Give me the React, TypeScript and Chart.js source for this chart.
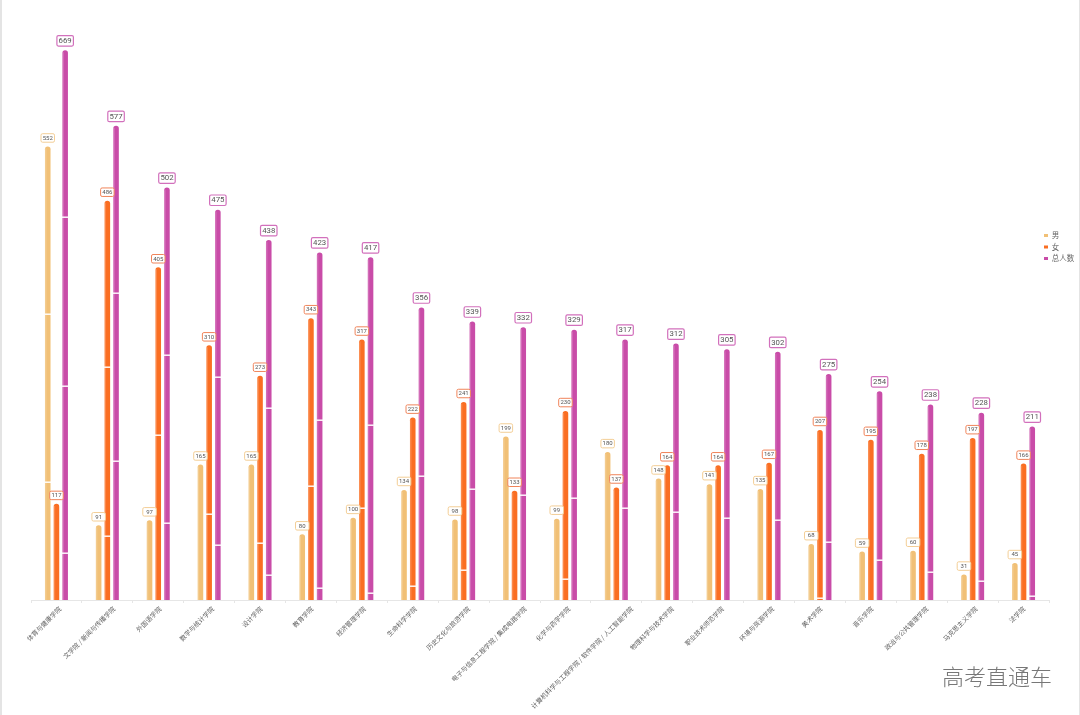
import React, { useEffect, useRef } from "react";
import { Chart, registerables } from "chart.js";

Chart.register(...registerables);

const categories = [
  "体育与健康学院", "文学院 / 新闻与传播学院", "外国语学院", "数学与统计学院", "设计学院",
  "教育学院", "经济管理学院", "生命科学学院", "历史文化与旅游学院", "电子与信息工程学院 / 集成电路学院",
  "化学与药学学院", "计算机科学与工程学院 / 软件学院 / 人工智能学院", "物理科学与技术学院", "职业技术师范学院", "环境与资源学院",
  "美术学院", "音乐学院", "政治与公共管理学院", "马克思主义学院", "法学院",
];
const male = [552, 91, 97, 165, 165, 80, 100, 134, 98, 199, 99, 180, 148, 141, 135, 68, 59, 60, 31, 45];
const female = [117, 486, 405, 310, 273, 343, 317, 222, 241, 133, 230, 137, 164, 164, 167, 207, 195, 178, 197, 166];
const total = [669, 577, 502, 475, 438, 423, 417, 356, 339, 332, 329, 317, 312, 305, 302, 275, 254, 238, 228, 211];

// White break marks seen on the bars, in axis units, per category
const maleMarks = [[348, 144]];
const femaleMarks = [[], [283, 78], [201], [105], [69], [139], [112], [17], [36], [], [25], [], [], [], [], [3]];
const totalMarks = [
  [466, 261, 57], [373, 169], [298, 94], [271, 67], [234, 30], [219, 14], [213, 8], [151], [135], [128],
  [124], [112], [107], [100], [97], [71], [49], [34], [23], [5],
];

const maleColor = "#F1C076";
const femaleColor = "#FA6E22";
const totalColor = "#C94CA8";
const labelBorders = ["#F3CE96", "#F0845A", "#D270BC"];
const markLists = [maleMarks, femaleMarks, totalMarks];

const decorations = {
  id: "decorations",
  beforeLayout(chart: any) {
    const l = chart.legend;
    if (l && !l.__patched) {
      const fit = l.fit.bind(l);
      l.fit = () => {
        fit();
        l.width = 31;
      };
      l.__patched = true;
    }
  },
  afterLayout(chart: any) {
    const l = chart.legend;
    if (l) {
      l.left -= 9;
      l.top -= 115.5;
      l.bottom -= 115.5;
    }
  },
  beforeDraw(chart: any) {
    const ctx: CanvasRenderingContext2D = chart.ctx;
    const xs = chart.scales.x;
    ctx.save();
    ctx.font = "6.5px 'Noto Sans CJK SC', sans-serif";
    xs.getLabelItems().forEach((item: any) => {
      if (item.__moved) return;
      const text = String(item.label);
      item.options.translation[0] += 0.125 * ctx.measureText(text).width - 2;
      item.__moved = true;
    });
    ctx.restore();
  },
  afterDatasetsDraw(chart: any) {
    const ctx: CanvasRenderingContext2D = chart.ctx;
    const y = chart.scales.y;
    const base = y.getPixelForValue(0);
    ctx.save();
    chart.data.datasets.forEach((_: any, i: number) => {
      const meta = chart.getDatasetMeta(i);
      meta.data.forEach((el: any) => {
        ctx.fillStyle = "rgba(255,255,255,0.18)";
        ctx.fillRect(el.x - el.width / 2, el.y + 2, 1.5, base - el.y - 2);
      });
      (markLists[i] as number[][]).forEach((list, j) => {
        const el = meta.data[j];
        if (!el) return;
        list.forEach((v) => {
          const py = Math.round(y.getPixelForValue(v));
          ctx.fillStyle = "#ffffff";
          ctx.fillRect(el.x - el.width / 2 - 0.5, py - 0.5, el.width + 1, 1.4);
        });
      });
    });
    chart.data.datasets.forEach((ds: any, i: number) => {
      const meta = chart.getDatasetMeta(i);
      const big = i === 2;
      const w = big ? 16.5 : 13.5;
      const h = big ? 10.5 : 8.5;
      ctx.font = `${big ? 7.8 : 6}px Roboto, sans-serif`;
      ctx.textAlign = "center";
      ctx.textBaseline = "middle";
      ds.data.forEach((v: number, j: number) => {
        const el = meta.data[j];
        const bx = el.x - w / 2;
        const by = el.y - 4.2 - h;
        ctx.beginPath();
        ctx.roundRect(bx, by, w, h, 1.5);
        ctx.fillStyle = "#ffffff";
        ctx.fill();
        ctx.lineWidth = big ? 1.2 : 1;
        ctx.strokeStyle = labelBorders[i];
        ctx.stroke();
        ctx.fillStyle = "#555555";
        ctx.fillText(String(v), el.x, by + h / 2 + 0.3);
      });
    });
    ctx.restore();
  },
};

export default function App() {
  const ref = useRef<HTMLCanvasElement>(null);
  useEffect(() => {
    document.body.style.margin = "0";
    const barStyle = {
      categoryPercentage: 0.513,
      barPercentage: 0.64,
      borderRadius: { topLeft: 3, topRight: 3, bottomLeft: 0, bottomRight: 0 },
      borderSkipped: false,
    };
    const chart = new Chart(ref.current as HTMLCanvasElement, {
      type: "bar",
      data: {
        labels: categories,
        datasets: [
          { label: "男", data: male, backgroundColor: maleColor, ...barStyle },
          { label: "女", data: female, backgroundColor: femaleColor, ...barStyle },
          { label: "总人数", data: total, backgroundColor: totalColor, ...barStyle },
        ],
      },
      options: {
        responsive: false,
        animation: false,
        devicePixelRatio: 1,
        layout: { padding: { left: 31, top: 10, right: 0, bottom: 0 } },
        plugins: {
          tooltip: { enabled: false },
          title: { display: false },
          legend: {
            position: "right",
            align: "center",
            labels: {
              boxWidth: 4,
              boxHeight: 3,
              padding: 4,
              color: "#666666",
              font: { size: 7.5, family: "'Noto Sans CJK SC', sans-serif" },
            },
          },
        },
        scales: {
          x: {
            afterFit: (s: any) => {
              s.height = 115;
            },
            border: { color: "#e6e6e6" },
            grid: { drawOnChartArea: false, drawTicks: true, tickLength: 3, color: "#e6e6e6" },
            ticks: {
              autoSkip: false,
              maxRotation: 45,
              minRotation: 45,
              padding: 2,
              color: "#5f5f5f",
              font: { size: 6.5, family: "'Noto Sans CJK SC', sans-serif" },
            },
          },
          y: { display: false, min: 0, max: 718 },
        },
      } as any,
      plugins: [decorations],
    });
    return () => chart.destroy();
  }, []);
  return (
    <div style={{ position: "absolute", left: 0, top: 0, width: 1080, height: 715, overflow: "hidden", background: "#fff" }}>
      <canvas ref={ref} width={1080} height={715} style={{ display: "block" }} />
      <div style={{ position: "absolute", left: 0, top: 0, width: 2, height: 715, background: "#e4e4e4" }} />
      <div style={{ position: "absolute", right: 0, top: 0, width: 1, height: 715, background: "#e4e4e4" }} />
      <div
        style={{
          position: "absolute",
          left: 942,
          top: 661,
          fontFamily: "'Noto Sans CJK SC', sans-serif",
          fontWeight: 300,
          fontSize: 22,
          lineHeight: "28px",
          color: "#777777",
          whiteSpace: "nowrap",
        }}
      >
        高考直通车
      </div>
    </div>
  );
}
